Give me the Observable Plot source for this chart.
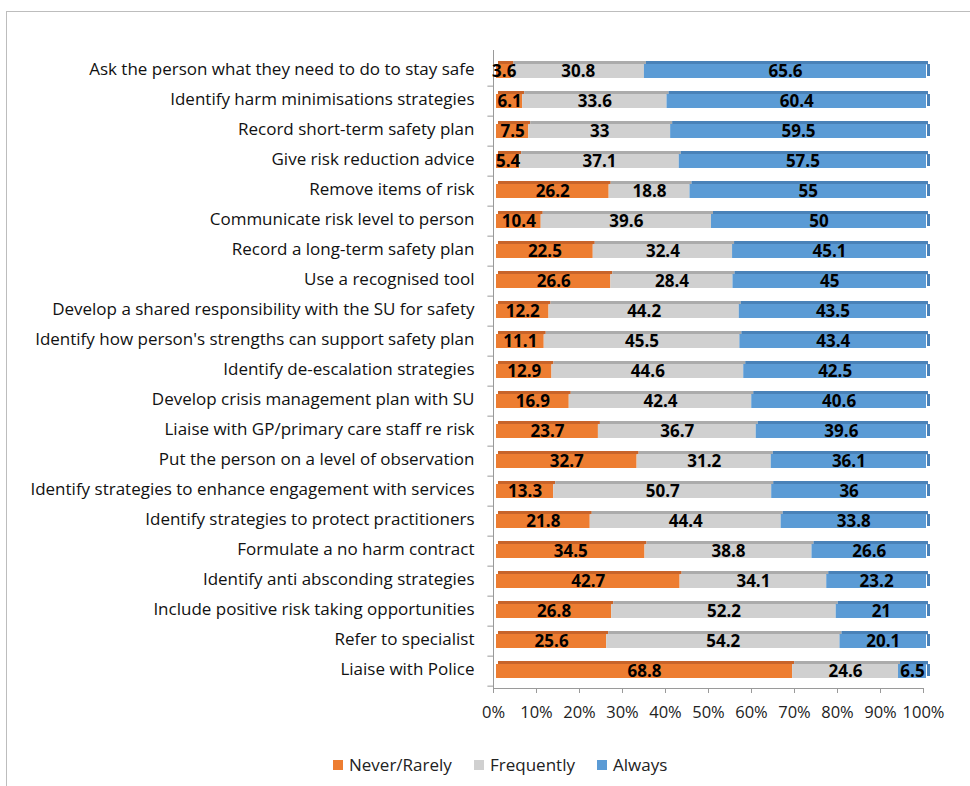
<!DOCTYPE html>
<html><head><meta charset="utf-8">
<script src="https://cdn.jsdelivr.net/npm/d3@7"></script>
<script src="https://cdn.jsdelivr.net/npm/@observablehq/plot@0.6"></script>
<style>
body{margin:0;background:#fff;font-family:"Open Sans",sans-serif;}
#wrap{position:relative;width:970px;height:786px;overflow:hidden;}
#border{position:absolute;left:6px;top:11px;width:990px;height:800px;border:1px solid #bdbdbd;box-sizing:border-box;}
#chart{position:absolute;left:0;top:0;}
#legend{position:absolute;top:753px;left:0;width:970px;font-size:17px;color:#222;}
.item{position:absolute;display:flex;align-items:center;}
.sw{width:10px;height:10px;margin-right:6px;}
</style></head><body>
<div id="wrap"><div id="border"></div><div id="chart"></div><div id="legend"></div></div>
<script>
const categories = [
"Ask the person what they need to do to stay safe",
"Identify harm minimisations strategies",
"Record short-term safety plan",
"Give risk reduction advice",
"Remove items of risk",
"Communicate risk level to person",
"Record a long-term safety plan",
"Use a recognised tool",
"Develop a shared responsibility with the SU for safety",
"Identify how person's strengths can support safety plan",
"Identify de-escalation strategies",
"Develop crisis management plan with SU",
"Liaise with GP/primary care staff re risk",
"Put the person on a level of observation",
"Identify strategies to enhance engagement with services",
"Identify strategies to protect practitioners",
"Formulate a no harm contract",
"Identify anti absconding strategies",
"Include positive risk taking opportunities",
"Refer to specialist",
"Liaise with Police"];
const neverRarely = [3.6,6.1,7.5,5.4,26.2,10.4,22.5,26.6,12.2,11.1,12.9,16.9,23.7,32.7,13.3,21.8,34.5,42.7,26.8,25.6,68.8];
const frequently = [30.8,33.6,33,37.1,18.8,39.6,32.4,28.4,44.2,45.5,44.6,42.4,36.7,31.2,50.7,44.4,38.8,34.1,52.2,54.2,24.6];
const always = [65.6,60.4,59.5,57.5,55,50,45.1,45,43.5,43.4,42.5,40.6,39.6,36.1,36,33.8,26.6,23.2,21,20.1,6.5];
const seriesNames = ["Never/Rarely","Frequently","Always"];
const seriesColors = ["#ED7D31","#D0D0D0","#5B9BD5"];
const topColors = ["#C8642A","#ABABAB","#4A82B8"];
const xTicks = [0,0.1,0.2,0.3,0.4,0.5,0.6,0.7,0.8,0.9,1];

const seriesValues = [neverRarely, frequently, always];
const data = [];
categories.forEach((c,i)=>seriesNames.forEach((s,j)=>data.push({cat:c, series:s, value:seriesValues[j][i]})));

const H = 735, mt = 50, mb = 47;
const pi = 0.45, po = 0.25;
const step = (H - mt - mb) / (categories.length - pi + 2*po);
const bw = step * (1 - pi);
const depth = 3;

const stk = (o) => Plot.stackX({x:"value", y:"cat", z:"series", order: seriesNames, offset:"normalize", ...o});

const chart = Plot.plot({
  width: 970, height: H,
  marginLeft: 493, marginRight: 47, marginTop: mt, marginBottom: mb,
  style: {fontFamily: "'Open Sans', sans-serif", color: "#111", background: "transparent"},
  x: {domain:[0,1], label: null},
  y: {domain: categories, paddingInner: pi, paddingOuter: po, label: null},
  color: {domain: seriesNames, range: seriesColors},
  marks: [
    Plot.ruleX([0], {stroke:"#9a9a9a"}),
    Plot.ruleY(categories, {y: d=>d, x1: -0.013, x2: 0, dy: step/2 + 1, stroke:"#9a9a9a"}),
    Plot.frame({anchor:"bottom", stroke:"#9a9a9a"}),
    Plot.barX(data, stk({fill: d=>topColors[seriesNames.indexOf(d.series)], insetBottom: bw - depth, dx: 5})),
    Plot.barX(data, stk({fill:"series", insetTop: depth, dx: 3})),
    Plot.tickX(categories, {x: ()=>1, y: d=>d, stroke: topColors[2], strokeWidth: 3, dx: 5, insetTop: depth, insetBottom: 2}),
    Plot.text(data, stk({text: d=>String(d.value), fontWeight:"bold", fontSize: 17, fill:"#000", dx: 3, dy: 1.5})),
    Plot.axisX({ticks: xTicks, tickFormat: d3.format(".0%"), tickSize: 5, tickPadding: 13, fontSize: 16.5, stroke:"#9a9a9a", fill:"#222", label: null}),
    Plot.axisY({tickSize: 0, tickPadding: 19, fontSize: 17, fill:"#111", label: null})
  ]
});
document.getElementById("chart").appendChild(chart);

const leg = document.getElementById("legend");
const lx = [333, 474, 597];
seriesNames.forEach((s,i)=>{
  const d = document.createElement("div"); d.className="item"; d.style.left = lx[i]+"px";
  d.innerHTML = `<span class="sw" style="background:${seriesColors[i]}"></span><span>${s}</span>`;
  leg.appendChild(d);
});
</script></body></html>
